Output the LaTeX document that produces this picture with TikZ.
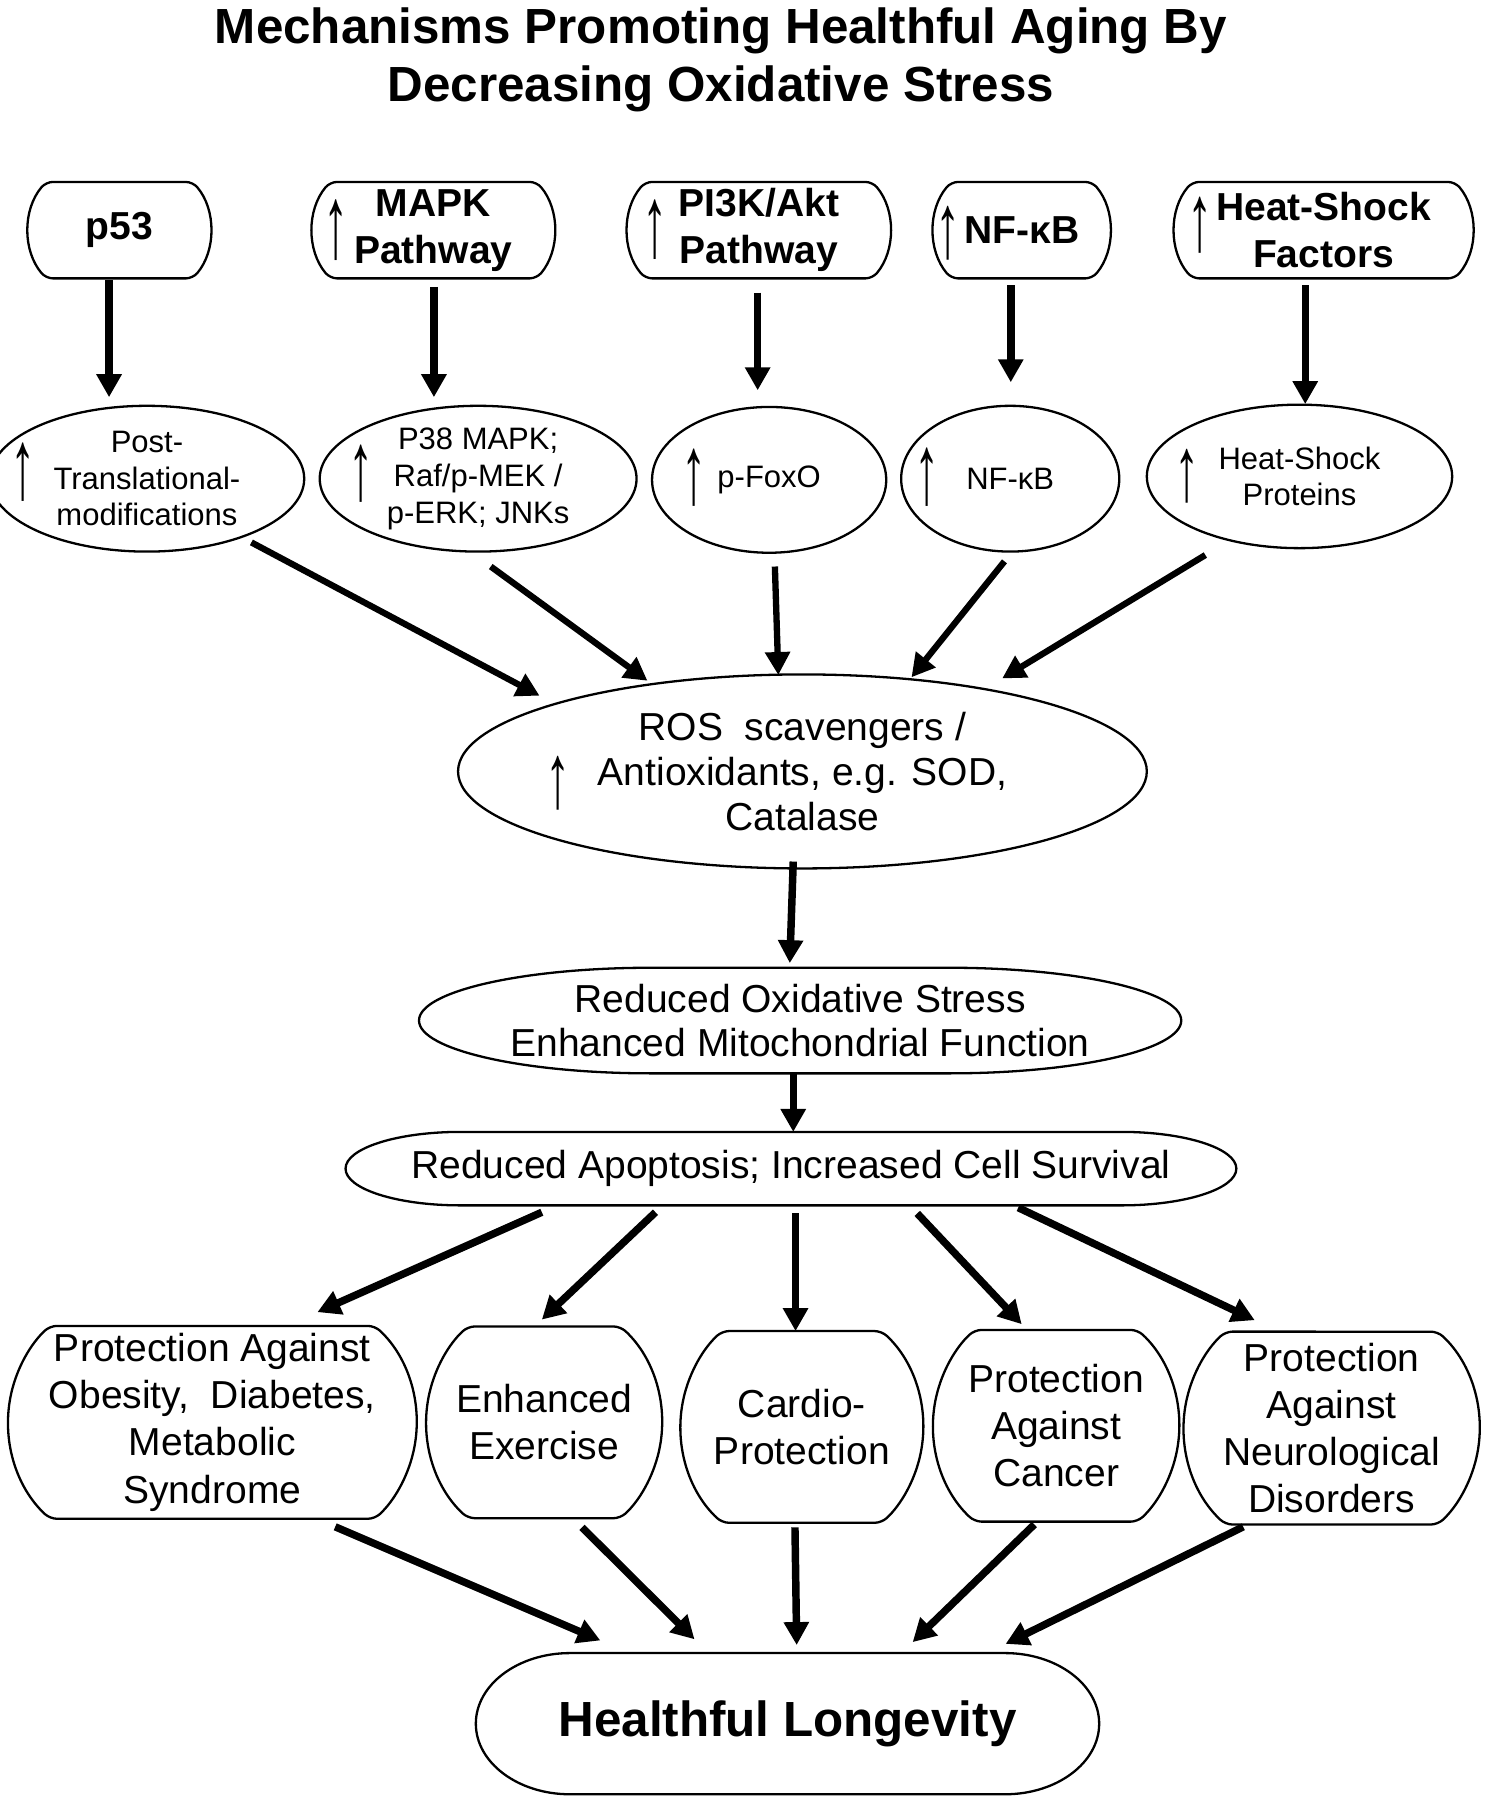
\documentclass[tikz,border=0pt]{standalone}
\usepackage{fontspec}
\setmainfont{Liberation Sans}
\usepackage{graphicx}
\usetikzlibrary{shapes.geometric,arrows.meta,calc}

% tall thin up-arrow glyph
\newcommand\up[1]{\resizebox*{22pt}{#1}{↑}}
% capsule outline round a plain node: name, half straight part, cap x radius, cap y radius
\newcommand\pill[4]{%
  \draw[outline] ([xshift=-#2]#1.north) -- ([xshift=#2]#1.north)
    arc[start angle=90,end angle=-90,x radius=#3,y radius=#4]
    -- ([xshift=-#2]#1.south)
    arc[start angle=270,end angle=90,x radius=#3,y radius=#4] -- cycle;}
% box with bulging arc sides round a plain node: name, half arc angle, half height
\newcommand\arcbox[3]{%
  \draw[outline,rounded corners=6pt] (#1.north) -- (#1.north east)
    arc[start angle=#2,end angle=-#2,radius={#3/sin(#2)}]
    -- (#1.south west)
    arc[start angle=180+#2,end angle=180-#2,radius={#3/sin(#2)}] -- cycle;}

\tikzset{
  outline/.style={line width=2pt},
  topbox/.style={minimum height=84pt,inner ysep=0pt,inner xsep=-20pt,outer sep=0pt,
    align=center,font=\bfseries\fontsize{34}{41}\selectfont},
  midoval/.style={draw,outline,ellipse,inner sep=0pt,align=center,
    minimum height=127pt,font=\fontsize{27}{32}\selectfont},
  pillbox/.style={inner sep=0pt,outer sep=0pt,align=center,
    font=\fontsize{34}{39}\selectfont},
  endbox/.style={minimum height=167pt,inner ysep=0pt,inner xsep=-40pt,outer sep=0pt,
    align=center,font=\fontsize{34}{41}\selectfont},
  upmark/.style={inner sep=0pt,font=\fontsize{27}{27}\selectfont},
  flow/.style={line width=6.5pt,-{Triangle[length=20pt,width=21pt]}},
  thinflow/.style={flow,line width=5.5pt},
}

\begin{document}
\begin{tikzpicture}[x=1pt,y=-1pt]
\useasboundingbox (0,0) rectangle (1294,1568);

\node[font=\bfseries\fontsize{43}{50}\selectfont,align=center] (title) at (628,52)
  {Mechanisms Promoting Healthful Aging By\\Decreasing Oxidative Stress};

% regulators
\node[topbox,minimum width=128pt] (p53) at (104,200.5) {p53};
\node[topbox,minimum width=180pt] (mapk) at (377.5,200.5) {MAPK\\Pathway};
\node[topbox,minimum width=198pt] (pik) at (661,200.5) {PI3K/Akt\\Pathway};
\node[topbox,minimum width=123pt] (nfk) at (890,200.5) {NF-κB};
\node[topbox,minimum width=229pt] (hsf) at (1153,200.5) {Heat-Shock\\Factors};
\foreach \b in {p53,mapk,pik,nfk,hsf} {\arcbox{\b}{40}{42pt}}
\node[upmark] (mapkup) at (293,200.5) {\up{53pt}};
\node[upmark] (pikup) at (571,200) {\up{52pt}};
\node[upmark] (nfkup) at (826,203) {\up{47pt}};
\node[upmark] (hsfup) at (1045,196.5) {\up{49pt}};

% effectors
\node[midoval,minimum width=274pt] (ptm) at (128,417) {Post-\\Translational-\\modifications};
\node[midoval,minimum width=276pt] (p38) at (416.5,417) {P38 MAPK;\\Raf/p-MEK /\\p-ERK; JNKs};
\node[midoval,minimum width=204pt] (foxo) at (670,418) {p-FoxO};
\node[midoval,minimum width=190pt] (nfkb) at (880,417) {NF-κB};
\node[midoval,minimum width=266pt,minimum height=125pt] (hsp) at (1132,415) {Heat-Shock\\Proteins};
\node[upmark] (ptmup) at (20,411.5) {\up{51pt}};
\node[upmark] (p38up) at (315,413) {\up{50pt}};
\node[upmark] (foxoup) at (605,416) {\up{50pt}};
\node[upmark] (nfkbup) at (808,415.5) {\up{51pt}};
\node[upmark] (hspup) at (1034,414.5) {\up{47pt}};

% antioxidants and downstream
\node[draw,outline,ellipse,inner sep=0pt,minimum width=600pt,minimum height=169pt,
  align=center,font=\fontsize{34}{39}\selectfont] (ros) at (699,672)
  {ROS~~scavengers /\\Antioxidants, e.g. SOD,\\Catalase};
\node[upmark] (rosup) at (486,682.5) {\up{47pt}};
\node[pillbox,minimum width=664pt,minimum height=92pt] (red) at (697,889)
  {Reduced Oxidative Stress\\Enhanced Mitochondrial Function};
\node[pillbox,minimum width=776pt,minimum height=64pt] (apop) at (689,1018)
  {Reduced Apoptosis; Increased Cell Survival};
\pill{red}{130pt}{202pt}{46pt}
\pill{apop}{288pt}{100pt}{32pt}

% outcomes
\node[endbox,minimum width=283pt,minimum height=168pt] (obes) at (185,1239)
  {Protection Against\\Obesity,~~Diabetes,\\Metabolic\\Syndrome};
\node[endbox,minimum width=133pt] (exer) at (474,1239) {Enhanced\\Exercise};
\node[endbox,minimum width=139pt] (card) at (698.5,1243) {Cardio-\\Protection};
\node[endbox,minimum width=142pt] (canc) at (920,1242) {Protection\\Against\\Cancer};
\node[endbox,minimum width=185pt,minimum height=168pt] (neur) at (1160,1244)
  {Protection\\Against\\Neurological\\Disorders};
\arcbox{obes}{47}{84pt}
\foreach \b in {exer,card,canc} {\arcbox{\b}{47}{83.5pt}}
\arcbox{neur}{47}{84pt}
\node[pillbox,minimum width=543pt,minimum height=123pt,
  font=\bfseries\fontsize{43}{50}\selectfont] (long) at (686,1501.5) {Healthful Longevity};
\pill{long}{189.5pt}{82pt}{61.5pt}

% regulators -> effectors
\draw[flow] ($(p53.south)+(-9,1.5)$) -- ($(ptm.north)+(-33,-6.5)$);
\draw[flow] ($(mapk.south)+(0.5,7.5)$) -- ($(p38.north)+(-38.5,-6.5)$);
\draw[flow] ($(pik.south)+(-1,12.5)$) -- ($(foxo.north)+(-10,-13.5)$);
\draw[flow] ($(nfk.south)+(-9.5,6)$) -- ($(nfkb.north)+(0.5,-19.5)$);
\draw[flow] ($(hsf.south)+(-16,6)$) -- ($(hsp.north)+(5,0.5)$);

% effectors -> ROS scavengers
\draw[thinflow] ($(ptm.south)+(91,-9)$) -- ($(ros)+(-229,-66)$);
\draw[thinflow] ($(p38.south)+(11,12)$) -- ($(ros)+(-135,-79)$);
\draw[thinflow] ($(foxo.south)+(5,11)$) -- ($(ros)+(-21,-84)$);
\draw[thinflow] ($(nfkb.south)+(-5,7.5)$) -- ($(ros)+(95,-82)$);
\draw[thinflow] ($(hsp.south)+(-82,5)$) -- ($(ros)+(174,-81)$);

% main chain
\draw[flow] ($(ros.south)+(-8,-7)$) -- ($(red.north)+(-9,-4)$);
\draw[flow] ($(red.south)+(-6,0)$) -- ($(apop.north)+(2,0)$);

% apoptosis -> outcomes
\draw[flow] ($(apop.south)+(-217,6)$) -- ($(obes.north)+(91.5,-12)$);
\draw[flow] ($(apop.south)+(-118,6)$) -- ($(exer.north)+(-2,-6)$);
\draw[flow] ($(apop.south)+(4,7)$) -- ($(card.north)+(-5.5,0)$);
\draw[flow] ($(apop.south)+(110,7)$) -- ($(canc.north)+(-30,-5)$);
\draw[flow] ($(apop.south)+(198,2)$) -- ($(neur.north)+(-67,-10)$);

% outcomes -> longevity
\draw[flow] ($(obes.south)+(107,7)$) -- ($(long.north)+(-163,-11)$);
\draw[flow] ($(exer.south)+(33,8)$) -- ($(long.north)+(-81,-12)$);
\draw[flow] ($(card.south)+(-6,4)$) -- ($(long.north)+(8,-7)$);
\draw[flow] ($(canc.south)+(-19,2.5)$) -- ($(long.north)+(109,-9.5)$);
\draw[flow] ($(neur.south)+(-77,2)$) -- ($(long.north)+(190,-8)$);
\end{tikzpicture}
\end{document}
